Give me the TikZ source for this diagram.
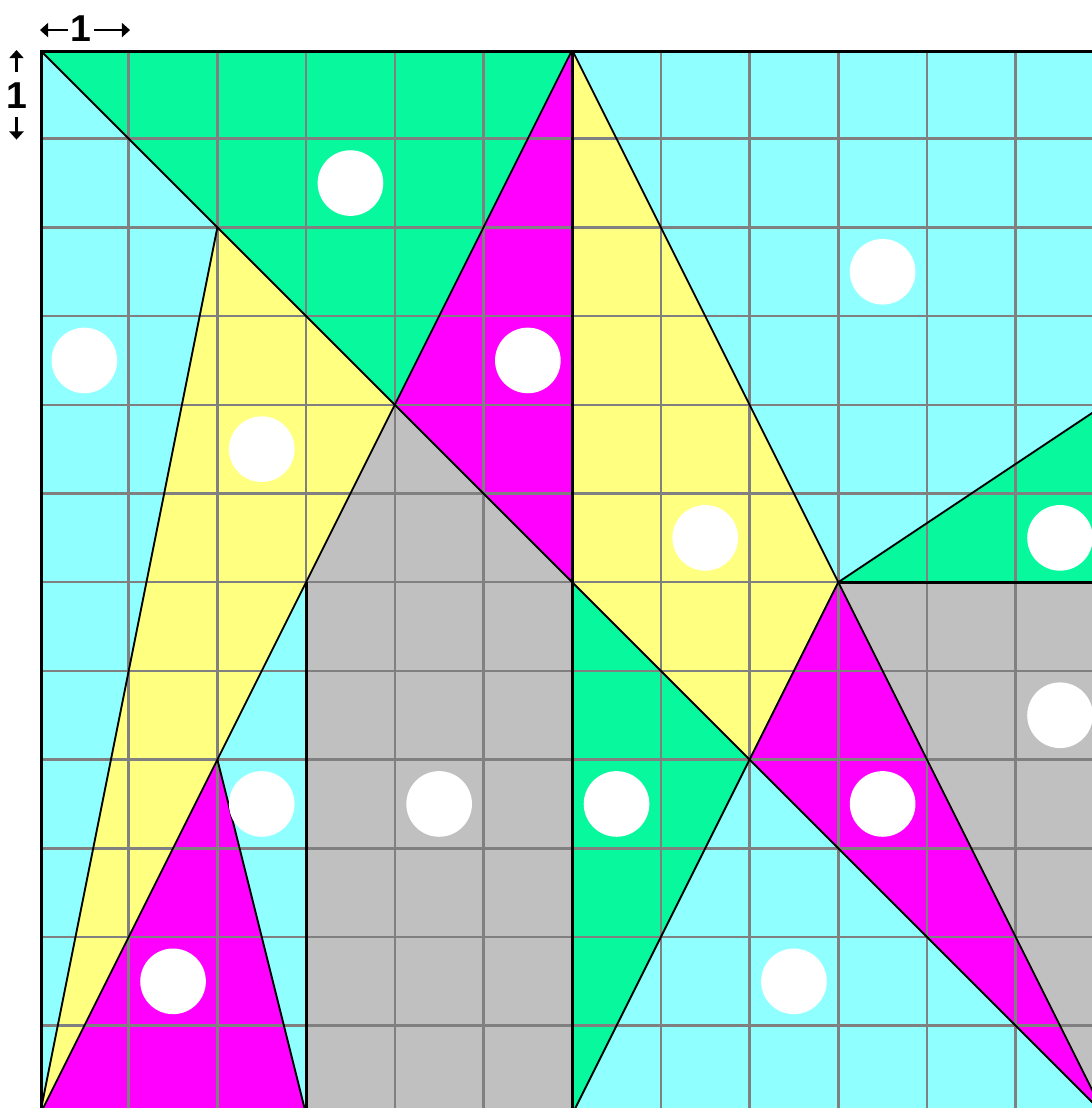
\documentclass[tikz,border=0pt]{standalone}
\usepackage{fontspec}
\setsansfont{Liberation Sans}
\usetikzlibrary{arrows.meta}
\definecolor{cy}{HTML}{90FFFF}
\definecolor{gr}{HTML}{08F89E}
\definecolor{mg}{HTML}{FF00FF}
\definecolor{ye}{HTML}{FFFF80}
\definecolor{gy}{HTML}{C0C0C0}
\definecolor{gl}{HTML}{808080}
\tikzset{
  edge/.style={black,line width=0.6pt,line join=round},
  heavy/.style={black,line width=1pt},
  gridl/.style={gl,line width=0.8pt},
  dot/.style={white,fill=white},
  arr/.style={black,line width=0.7pt,-{Triangle[length=2.6pt,width=4.5pt]}},
  lbl/.style={font=\sffamily\bfseries\fontsize{12}{12}\selectfont,inner sep=0pt}
}
\begin{document}
\begin{tikzpicture}[x=1cm,y=-1cm]
\useasboundingbox (-0.451,-0.564) rectangle (11.860,11.928);
\fill[white] (-0.451,-0.564) rectangle (11.860,11.928);
% key vertices
\coordinate (O) at (0,0);
\coordinate (T) at (6,0);
\coordinate (A) at (2,2);
\coordinate (C) at (4,4);
\coordinate (D) at (6,6);
\coordinate (E) at (3,6);
\coordinate (F) at (2,8);
\coordinate (G) at (8,8);
\coordinate (H) at (9,6);
\coordinate (BL) at (0,12);
\coordinate (B3) at (3,12);
\coordinate (B6) at (6,12);
\coordinate (BR) at (12,12);
\coordinate (R4) at (13,3.3333);
\coordinate (R6) at (13,6);
\coordinate (R12) at (13,12);
\begin{scope}
\clip (0,0) rectangle (11.860,11.928);
\fill[cy] (0,0) rectangle (13,13);
\fill[gr] (O) -- (T) -- (C) -- cycle;
\fill[mg] (T) -- (C) -- (D) -- cycle;
\fill[ye] (A) -- (C) -- (BL) -- cycle;
\fill[mg] (F) -- (B3) -- (BL) -- cycle;
\fill[gy] (C) -- (D) -- (B6) -- (B3) -- (E) -- cycle;
\fill[ye] (T) -- (H) -- (G) -- (D) -- cycle;
\fill[gr] (D) -- (G) -- (B6) -- cycle;
\fill[mg] (H) -- (BR) -- (G) -- cycle;
\fill[gy] (H) -- (R6) -- (R12) -- (BR) -- cycle;
\fill[gr] (H) -- (R4) -- (R6) -- cycle;
% grid
\foreach \k in {1,...,12} {
  \draw[gridl] (\k,0) -- (\k,13);
  \draw[gridl] (0,\k) -- (13,\k);
}
% black edges
\draw[edge] (O) -- (BR);
\draw[edge] (T) -- (C);
\draw[edge] (T) -- (H);
\draw[edge] (A) -- (BL);
\draw[edge] (C) -- (BL);
\draw[edge] (F) -- (B3);
\draw[edge] (H) -- (G);
\draw[edge] (G) -- (B6);
\draw[edge] (H) -- (BR);
\draw[edge] (H) -- (R4);
\draw[heavy] (T) -- (B6);
\draw[heavy] (E) -- (B3);
\draw[heavy] (H) -- (R6);
\draw[heavy] (0,0.02) -- (13,0.02);
\draw[heavy] (0.02,0) -- (0.02,13);
% dots
\foreach \p in {(3.5,1.5),(9.5,2.5),(0.5,3.5),(5.5,3.5),(2.5,4.5),(7.5,5.5),(11.5,5.5),(11.5,7.5),(2.5,8.5),(4.5,8.5),(6.5,8.5),(9.5,8.5),(1.5,10.5),(8.5,10.5)}
  \fill[dot] \p circle (0.37);
\end{scope}
% scale labels
\node[lbl] (h1) at (0.462,-0.245) {1};
\coordinate (hla) at (0.32,-0.225);
\coordinate (hlb) at (0,-0.225);
\coordinate (hra) at (0.61,-0.225);
\coordinate (hrb) at (1.015,-0.225);
\draw[arr] (hla) -- (hlb);
\draw[arr] (hra) -- (hrb);
\node[lbl] (v1) at (-0.265,0.51) {1};
\coordinate (vua) at (-0.265,0.25);
\coordinate (vub) at (-0.265,0);
\coordinate (vda) at (-0.265,0.76);
\coordinate (vdb) at (-0.265,1.01);
\draw[arr] (vua) -- (vub);
\draw[arr] (vda) -- (vdb);
\end{tikzpicture}
\end{document}
